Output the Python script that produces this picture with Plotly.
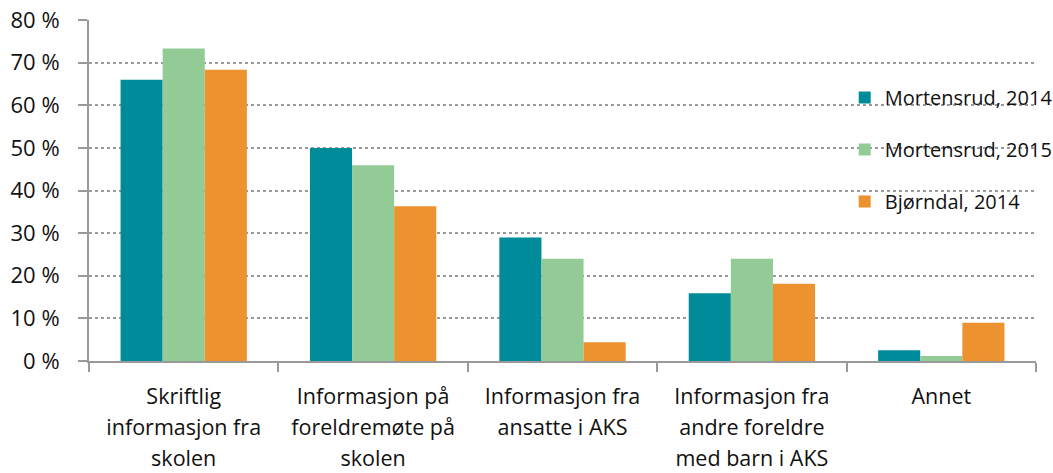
import plotly.graph_objects as go

categories = [
    "Skriftlig<br>informasjon fra<br>skolen",
    "Informasjon på<br>foreldremøte på<br>skolen",
    "Informasjon fra<br>ansatte i AKS",
    "Informasjon fra<br>andre foreldre<br>med barn i AKS",
    "Annet",
]
series_names = ["Mortensrud, 2014", "Mortensrud, 2015", "Bjørndal, 2014"]
mortensrud_2014 = [66.0, 50.0, 29.0, 15.9, 2.5]
mortensrud_2015 = [73.3, 45.9, 24.0, 24.0, 1.2]
bjorndal_2014 = [68.3, 36.3, 4.4, 18.1, 9.0]
y_ticks = [0, 10, 20, 30, 40, 50, 60, 70, 80]
y_tick_labels = [f"{v} %" for v in y_ticks]

colors = ["#008b9a", "#93cb96", "#ec922f"]
font = "'Open Sans', sans-serif"

# wrap each line in a smaller span so the line spacing (based on tickfont size) is wider
x_labels = ["<br>".join(f"<span style='font-size:21.5px'>{ln}</span>" for ln in c.split("<br>"))
            for c in categories]

fig = go.Figure()
for i, (name, vals) in enumerate(zip(series_names, [mortensrud_2014, mortensrud_2015, bjorndal_2014])):
    fig.add_trace(go.Bar(
        x=x_labels, y=vals, name=name,
        marker=dict(color=colors[i], line=dict(width=0)),
        legendgroup=f"g{i}",
    ))

fig.update_layout(
    width=1053, height=473,
    margin=dict(l=89, r=17, t=20, b=112, autoexpand=False),
    barmode="group", bargap=0.333, bargroupgap=0,
    plot_bgcolor="white", paper_bgcolor="white",
    font=dict(family=font, size=21, color="#111"),
    legend=dict(
        x=0.798, y=0.83, xanchor="left", yanchor="top",
        font=dict(size=20), bgcolor="rgba(0,0,0,0)",
        traceorder="grouped", tracegroupgap=23,
        itemwidth=30,
    ),
    xaxis=dict(
        automargin=False,
        showline=True, linecolor="#999", linewidth=2,
        ticks="outside", tickson="boundaries", ticklen=9, tickcolor="#999", tickwidth=2,
        ticklabelstandoff=12, tickfont=dict(size=24),
        showgrid=False,
    ),
    yaxis=dict(
        automargin=False,
        range=[0, 80], tickmode="array", tickvals=y_ticks, ticktext=y_tick_labels,
        showline=True, linecolor="#999", linewidth=2,
        ticks="outside", ticklen=9, tickcolor="#999", tickwidth=2,
        ticklabelstandoff=14, tickfont=dict(size=22),
        showgrid=True, gridcolor="#999999", gridwidth=2, griddash="dot",
        zeroline=False,
    ),
)

fig.write_html("out.html", config={"displayModeBar": False},
               post_script="document.body.style.margin='0';")
